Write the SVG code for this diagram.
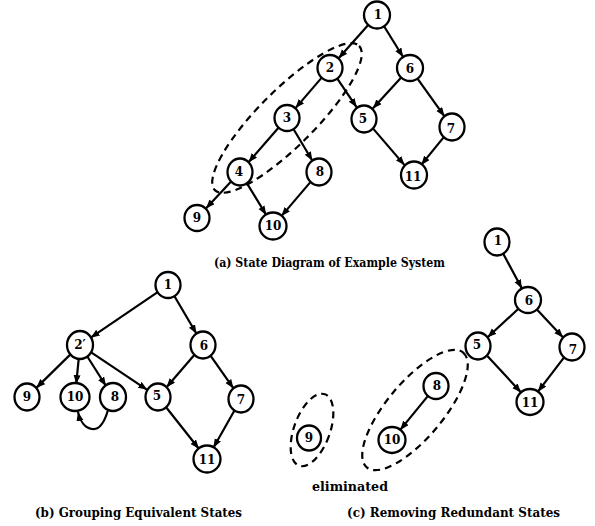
<svg xmlns="http://www.w3.org/2000/svg" width="595" height="526" viewBox="0 0 595 526">
  <defs>
    <marker id="arrow" markerUnits="userSpaceOnUse" markerWidth="10" markerHeight="8" refX="9" refY="3.5" orient="auto">
      <path d="M0,0 L9,3.5 L0,7 z" fill="#000"/>
    </marker>
    <style>
      .node ellipse { fill: #fff; stroke: #000; stroke-width: 2.3; }
      .node text { font-family: "DejaVu Serif", "Liberation Serif", serif; font-weight: bold; font-size: 12px; text-anchor: middle; dominant-baseline: central; fill: #000; }
      .edges line, .edges path { stroke: #000; stroke-width: 2.2; fill: none; marker-end: url(#arrow); }
      .group { fill: none; stroke: #000; stroke-width: 2.2; stroke-dasharray: 7 5; }
      .caption { font-family: "DejaVu Serif", "Liberation Serif", serif; font-weight: bold; font-size: 13.5px; fill: #000; }
    </style>
  </defs>

  <rect width="595" height="526" fill="#fff"/>

  <!-- (a) State diagram of the example system -->
  <g id="a-edges" class="edges">
    <line x1="368.4" y1="24.7" x2="338.6" y2="58.3"/>
    <line x1="383.9" y1="26.0" x2="403.1" y2="57.0"/>
    <line x1="321.5" y1="77.9" x2="295.5" y2="108.1"/>
    <line x1="337.3" y1="78.7" x2="356.7" y2="107.3"/>
    <line x1="401.2" y1="77.6" x2="372.8" y2="108.4"/>
    <line x1="417.5" y1="78.6" x2="444.5" y2="116.4"/>
    <line x1="278.5" y1="127.8" x2="248.5" y2="162.2"/>
    <line x1="293.6" y1="129.2" x2="312.4" y2="160.8"/>
    <line x1="231.1" y1="181.5" x2="205.9" y2="208.5"/>
    <line x1="246.8" y1="183.1" x2="266.2" y2="214.9"/>
    <line x1="310.6" y1="181.9" x2="281.4" y2="216.1"/>
    <line x1="372.5" y1="127.9" x2="404.5" y2="165.1"/>
    <line x1="443.8" y1="137.1" x2="421.2" y2="164.9"/>
  </g>
  <ellipse id="a-group" class="group" cx="287" cy="118" rx="102" ry="28" transform="rotate(-45 287 118)"/>
  <g id="a-n1" class="node"><ellipse cx="377" cy="15" rx="13" ry="13.5"/><text x="378" y="15">1</text></g>
  <g id="a-n2" class="node"><ellipse cx="330" cy="68" rx="12.5" ry="13"/><text x="330" y="68">2</text></g>
  <g id="a-n6" class="node"><ellipse cx="410" cy="68" rx="13" ry="13"/><text x="410" y="69">6</text></g>
  <g id="a-n3" class="node"><ellipse cx="287" cy="118" rx="12.5" ry="13"/><text x="287" y="118">3</text></g>
  <g id="a-n5" class="node"><ellipse cx="364" cy="119" rx="12.5" ry="13.5"/><text x="363" y="119">5</text></g>
  <g id="a-n7" class="node"><ellipse cx="452" cy="127" rx="12.5" ry="13.5"/><text x="451" y="129">7</text></g>
  <g id="a-n4" class="node"><ellipse cx="240" cy="172" rx="12.5" ry="13.5"/><text x="239" y="172">4</text></g>
  <g id="a-n8" class="node"><ellipse cx="319" cy="172" rx="12.5" ry="13.5"/><text x="320" y="172">8</text></g>
  <g id="a-n11" class="node"><ellipse cx="414" cy="175" rx="13" ry="13.5"/><text x="413" y="177">11</text></g>
  <g id="a-n9" class="node"><ellipse cx="197" cy="218" rx="12.5" ry="13"/><text x="197" y="218">9</text></g>
  <g id="a-n10" class="node"><ellipse cx="273" cy="226" rx="13.5" ry="13.5"/><text x="273" y="226">10</text></g>
  <text class="caption" x="214" y="267" textLength="231" lengthAdjust="spacingAndGlyphs">(a) State Diagram of Example System</text>

  <!-- (b) Grouping equivalent states -->
  <g id="b-edges" class="edges">
    <line x1="157.3" y1="292.3" x2="90.7" y2="337.7"/>
    <line x1="174.5" y1="296.2" x2="196.5" y2="333.8"/>
    <line x1="70.7" y1="354.1" x2="36.3" y2="387.9"/>
    <line x1="78.8" y1="357.9" x2="76.2" y2="384.1"/>
    <line x1="87.0" y1="356.0" x2="106.0" y2="386.0"/>
    <line x1="90.8" y1="352.2" x2="147.2" y2="389.8"/>
    <line x1="194.5" y1="354.8" x2="166.5" y2="387.2"/>
    <line x1="210.5" y1="355.6" x2="233.5" y2="388.4"/>
    <line x1="166.1" y1="407.2" x2="198.9" y2="448.8"/>
    <line x1="234.6" y1="410.3" x2="213.4" y2="447.7"/>
    <path d="M108,410 C104,424 98,430 92,429 C85,428 80,421 78,412"/>
  </g>
  <g id="b-n1" class="node"><ellipse cx="168" cy="285" rx="12.5" ry="13"/><text x="168" y="285">1</text></g>
  <g id="b-n2p" class="node"><ellipse cx="80" cy="345" rx="13" ry="14"/><text x="80" y="345">2′</text></g>
  <g id="b-n6" class="node"><ellipse cx="203" cy="345" rx="12.5" ry="13.5"/><text x="204" y="346">6</text></g>
  <g id="b-n9" class="node"><ellipse cx="27" cy="397" rx="12.5" ry="13.5"/><text x="27" y="397">9</text></g>
  <g id="b-n10" class="node"><ellipse cx="75" cy="397" rx="14.5" ry="14"/><text x="75" y="397">10</text></g>
  <g id="b-n8" class="node"><ellipse cx="113" cy="397" rx="13" ry="14"/><text x="115" y="397">8</text></g>
  <g id="b-n5" class="node"><ellipse cx="158" cy="397" rx="12.5" ry="13.5"/><text x="157" y="396">5</text></g>
  <g id="b-n7" class="node"><ellipse cx="241" cy="399" rx="12.5" ry="13.5"/><text x="241" y="400">7</text></g>
  <g id="b-n11" class="node"><ellipse cx="207" cy="459" rx="13.5" ry="13.5"/><text x="207" y="460">11</text></g>
  <text class="caption" x="35" y="517" textLength="207" lengthAdjust="spacingAndGlyphs">(b) Grouping Equivalent States</text>

  <!-- (c) Removing redundant states -->
  <g id="c-edges" class="edges">
    <line x1="503.1" y1="253.5" x2="521.9" y2="288.5"/>
    <line x1="518.4" y1="308.8" x2="487.6" y2="337.2"/>
    <line x1="536.9" y1="309.5" x2="563.1" y2="337.5"/>
    <line x1="486.9" y1="355.5" x2="521.1" y2="392.5"/>
    <line x1="564.1" y1="357.3" x2="537.9" y2="391.7"/>
    <line x1="427.8" y1="396.1" x2="400.2" y2="429.9"/>
  </g>
  <ellipse id="c-group9" class="group" cx="312" cy="430" rx="18" ry="38" transform="rotate(20 312 430)"/>
  <ellipse id="c-group810" class="group" cx="415" cy="410" rx="75" ry="28" transform="rotate(-50 415 410)"/>
  <g id="c-n1" class="node"><ellipse cx="497" cy="242" rx="12.5" ry="13.5"/><text x="498" y="241">1</text></g>
  <g id="c-n6" class="node"><ellipse cx="528" cy="300" rx="13" ry="13"/><text x="529" y="301">6</text></g>
  <g id="c-n5" class="node"><ellipse cx="478" cy="346" rx="12.5" ry="13.5"/><text x="477" y="345">5</text></g>
  <g id="c-n7" class="node"><ellipse cx="572" cy="347" rx="12.5" ry="13.5"/><text x="573" y="350">7</text></g>
  <g id="c-n11" class="node"><ellipse cx="530" cy="402" rx="13.5" ry="13"/><text x="530" y="403">11</text></g>
  <g id="c-n8" class="node"><ellipse cx="436" cy="386" rx="12.5" ry="13"/><text x="437" y="386">8</text></g>
  <g id="c-n10" class="node"><ellipse cx="392" cy="440" rx="13.5" ry="13"/><text x="392" y="440">10</text></g>
  <g id="c-n9" class="node"><ellipse cx="309" cy="438" rx="12" ry="12.5"/><text x="309" y="438">9</text></g>
  <text class="caption" x="312" y="491" textLength="76" lengthAdjust="spacingAndGlyphs">eliminated</text>
  <text class="caption" x="347" y="517" textLength="213" lengthAdjust="spacingAndGlyphs">(c) Removing Redundant States</text>
</svg>
